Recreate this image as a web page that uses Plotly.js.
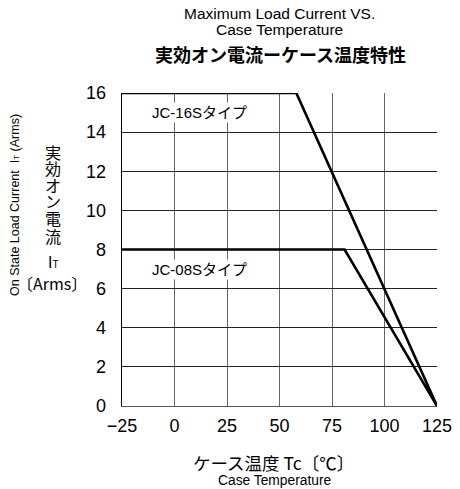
<!DOCTYPE html>
<html>
<head>
<meta charset="utf-8">
<script src="https://cdn.plot.ly/plotly-3.0.1.min.js"></script>
<style>html,body{margin:0;padding:0;background:#fff;}#chart{width:460px;height:489px;}</style>
</head>
<body>
<div id="chart"></div>
<script>
const temps16 = [-25, 58, 125];
const current16 = [16, 16, 0];
const temps08 = [-25, 81, 125];
const current08 = [8, 8, 0];
const xTicks = [-25, 0, 25, 50, 75, 100, 125];
const yTicks = [0, 2, 4, 6, 8, 10, 12, 14, 16];
const seriesLabels = ['JC-16Sタイプ', 'JC-08Sタイプ'];
const labelX = [12, 12];
const labelY = [15, 7];
const yTitleChars = ['実', '効', 'オ', 'ン', '電', '流'];

const FONT = 'Liberation Sans, Arial, Noto Sans CJK JP, sans-serif';
const JFONT = 'Noto Sans CJK JP, Liberation Sans, sans-serif';

const W = 460, H = 489, L = 122, R = 23, T = 93, B = 83;
const pw = W - L - R, ph = H - T - B;
const px = p => (p - L) / pw;
const py = p => (H - B - p) / ph;

const traces = [
  {x: temps16, y: current16, mode: 'lines', line: {color: '#000', width: 2.6}, cliponaxis: false, hoverinfo: 'skip'},
  {x: temps08, y: current08, mode: 'lines', line: {color: '#000', width: 2.6}, cliponaxis: false, hoverinfo: 'skip'}
];

const ann = (x, y, text, font, extra) => Object.assign({xref: 'paper', yref: 'paper', x: px(x), y: py(y), text: text, showarrow: false, font: font, xanchor: 'center', yanchor: 'middle'}, extra || {});

const annotations = [
  ann(279, 14, 'Maximum Load Current VS.', {family: FONT, size: 15.5, color: '#000'}),
  ann(279, 29, 'Case Temperature', {family: FONT, size: 15.5, color: '#000'}),
  ann(280, 54, '実効オン電流ーケース温度特性', {family: JFONT, size: 18, color: '#000', weight: 'bold'}),
  ann(273, 462, 'ケース温度 Tc〔℃〕', {family: JFONT, size: 17.5, color: '#000'}),
  ann(275, 480, 'Case Temperature', {family: FONT, size: 13.8, color: '#000'}),
  ann(53, 262, 'I<span style="font-size:10px">T</span>', {family: FONT, size: 16, color: '#000'}),
  ann(52, 283, '〔Arms〕', {family: JFONT, size: 16, color: '#000'}),
  ann(15, 205, 'On State Load Current  I<span style="font-size:8px">T</span> (Arms)', {family: FONT, size: 12.5, color: '#000'}, {textangle: -90})
];
const charY = [152, 168, 185, 201, 218, 236];
for (let i = 0; i < yTitleChars.length; i++) {
  annotations.push(ann(53, charY[i], yTitleChars[i], {family: JFONT, size: 16, color: '#000'}));
}
for (let i = 0; i < seriesLabels.length; i++) {
  annotations.push({x: labelX[i], y: labelY[i], text: seriesLabels[i], showarrow: false, font: {family: FONT, size: 15, color: '#000'}, xanchor: 'center', yanchor: 'middle', bgcolor: '#fff'});
}

const layout = {
  width: W, height: H,
  margin: {l: L, r: R, t: T, b: B},
  paper_bgcolor: '#fff', plot_bgcolor: '#fff',
  showlegend: false,
  xaxis: {
    range: [-25, 125], tickvals: xTicks, ticktext: xTicks.map(v => v < 0 ? '−' + Math.abs(v) : String(v)),
    showgrid: true, gridcolor: '#666', gridwidth: 1,
    zeroline: false, showline: true, linecolor: '#555', linewidth: 1,
    ticks: '', ticklabelstandoff: 3, tickfont: {family: FONT, size: 18, color: '#000'}, fixedrange: true
  },
  yaxis: {
    range: [0, 16], tickvals: yTicks,
    showgrid: true, gridcolor: '#222', gridwidth: 1,
    zeroline: false, showline: true, linecolor: '#000', linewidth: 1.3,
    ticks: '', ticklabelstandoff: 11, tickfont: {family: FONT, size: 18, color: '#000'}, fixedrange: true
  },
  annotations: annotations
};

Plotly.newPlot('chart', traces, layout, {staticPlot: true, displayModeBar: false});
</script>
</body>
</html>
